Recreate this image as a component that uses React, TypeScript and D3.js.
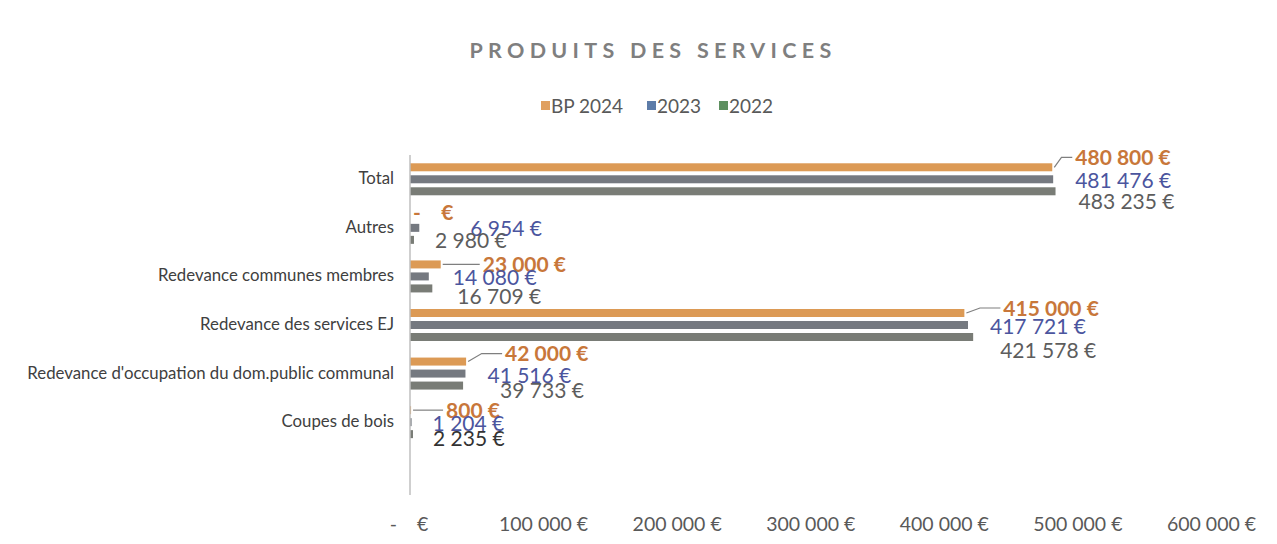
import React from "react";
import * as d3 from "d3";

const categories = [
  "Total",
  "Autres",
  "Redevance communes membres",
  "Redevance des services EJ",
  "Redevance d'occupation du dom.public communal",
  "Coupes de bois",
  "",
];
const seriesNames = ["BP 2024", "2023", "2022"];
const bp2024 = [480800, 0, 23000, 415000, 42000, 800];
const y2023 = [481476, 6954, 14080, 417721, 41516, 1204];
const y2022 = [483235, 2980, 16709, 421578, 39733, 2235];
const tickValues = [0, 100000, 200000, 300000, 400000, 500000, 600000];

// label offsets (dx from bar end, dy from bar centre) per series per category
const labelOffsets = [
  [[23, -10], [3, -3], [42, 0], [39, -5], [39, -8], [35, 0]],
  [[22, 1], [51, 1], [24, 1], [22, 1], [22, 2], [21, 1]],
  [[23, 10], [21, 1], [25, 8], [27, 13], [37, 5], [20, 4]],
];
const leaders = [true, false, true, true, true, true];

const W = 1277;
const H = 544;
const barColors = ["#dc9a55", "#757980", "#797c76"];
const legendColors = ["#e0a060", "#5d7ca8", "#5e9060"];
const labelColors = ["#c8773a", "#4b559e", "#5d5d5d"];
const FONT = "Lato, 'Open Sans', sans-serif";
const NB = "\u00a0";

const fmt = (v: number) => {
  if (v === 0) return `-${NB}${NB}${NB}${NB}€`;
  return d3.format(",")(v).replace(/,/g, NB) + NB + "€";
};

export default function App() {
  const x = d3.scaleLinear().domain([0, 600000]).range([410, 1211.5]);
  const y = d3.scaleBand().domain(categories).range([155, 495]).paddingInner(0).paddingOuter(0);
  const barH = 8;
  const step = 12;
  const series = [bp2024, y2023, y2022];

  return (
    <svg
      width={W}
      height={H}
      style={{ position: "absolute", left: 0, top: 0, background: "#fff", fontFamily: FONT }}
    >
      <text
        x={653}
        y={58}
        textAnchor="middle"
        fontSize={21.5}
        fontWeight={700}
        fill="#7f7f7f"
        letterSpacing={5.3}
      >
        PRODUITS DES SERVICES
      </text>

      {/* legend */}
      {seriesNames.map((s, i) => {
        const lx = [541, 647, 719][i];
        return (
          <g key={s}>
            <rect x={lx} y={101} width={9} height={9} fill={legendColors[i]} />
            <text x={lx + 10} y={113} fontSize={19} fill="#595959">
              {s}
            </text>
          </g>
        );
      })}

      {/* bars */}
      {series.map((vals, si) =>
        vals.map((v, ci) => {
          const cy = (y(categories[ci]) as number) + y.bandwidth() / 2 + (si - 1) * step;
          return (
            <rect
              key={`${si}-${ci}`}
              x={x(0)}
              y={cy - barH / 2}
              width={Math.max(0, x(v) - x(0))}
              height={barH}
              fill={barColors[si]}
            />
          );
        })
      )}

      {/* axis line */}
      <line x1={x(0)} x2={x(0)} y1={155} y2={495} stroke="#bfbfbf" strokeWidth={1.5} />

      {/* category labels */}
      {categories.map((c) => (
        <text
          key={c}
          x={394}
          y={(y(c) as number) + y.bandwidth() / 2 + 5}
          textAnchor="end"
          fontSize={16.8}
          fill="#404040"
        >
          {c}
        </text>
      ))}

      {/* data labels */}
      {series.map((vals, si) =>
        vals.map((v, ci) => {
          const cy = (y(categories[ci]) as number) + y.bandwidth() / 2 + (si - 1) * step;
          const [dx, dy] = labelOffsets[si][ci];
          const bx = x(v);
          const lx = bx + dx;
          const ly = cy + dy;
          return (
            <g key={`l-${si}-${ci}`}>
              {si === 0 && leaders[ci] && (
                <polyline
                  points={`${bx + 2},${cy} ${bx + dx * 0.4},${ly} ${lx - 3},${ly}`}
                  fill="none"
                  stroke="#7f7f7f"
                  strokeWidth={1.2}
                />
              )}
              <text
                x={lx}
                y={ly + 7.5}
                fontSize={21}
                fontWeight={si === 0 ? 700 : 400}
                fill={ci === 5 && si === 2 ? "#333" : labelColors[si]}
              >
                {fmt(v)}
              </text>
            </g>
          );
        })
      )}

      {/* x tick labels */}
      {tickValues.map((t) => (
        <text
          key={t}
          x={t === 0 ? x(t) - 1 : x(t)}
          y={531}
          textAnchor="middle"
          fontSize={19.5}
          fill="#595959"
        >
          {fmt(t)}
        </text>
      ))}
    </svg>
  );
}
